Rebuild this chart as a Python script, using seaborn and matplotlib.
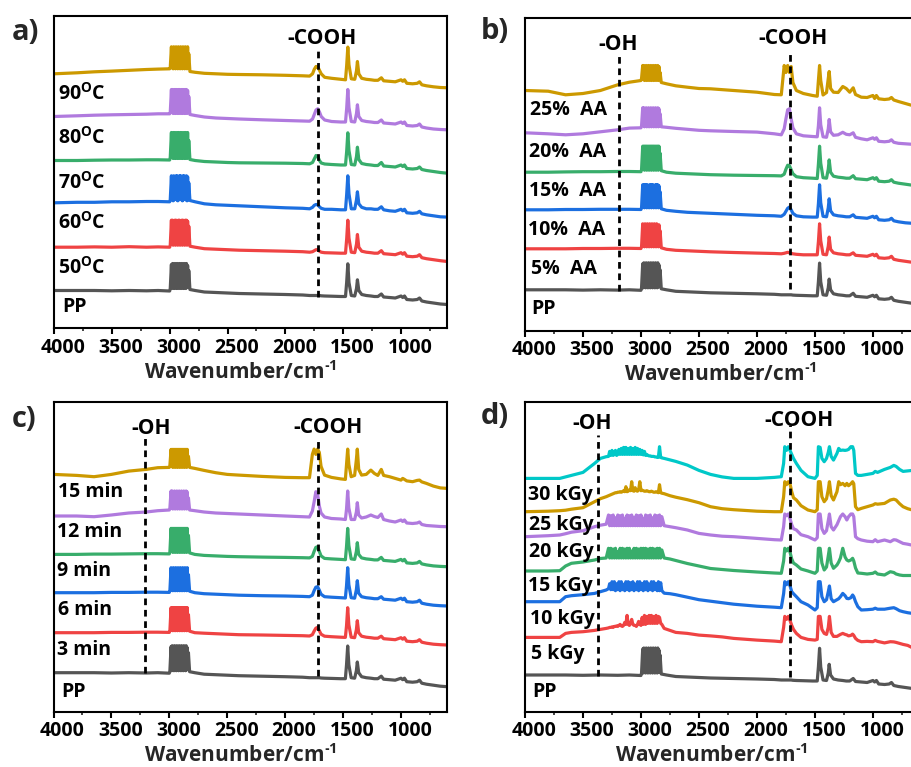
import numpy as np
import pandas as pd
import matplotlib
matplotlib.use("Agg")
import matplotlib.pyplot as plt
from matplotlib.ticker import MultipleLocator
from matplotlib.transforms import ScaledTranslation
import seaborn as sns

# ---------------------------------------------------------------------------
# Wavenumber grids (cm-1)
# ---------------------------------------------------------------------------
wn_main = [4000, 3800, 3650, 3500, 3350, 3200, 3100, 3000, 2995,
           2985, 2980, 2975, 2970, 2965, 2960, 2955, 2950, 2945, 2940, 2935, 2930, 2925, 2920, 2915, 2910,
           2905, 2900, 2895, 2890, 2885, 2880, 2875, 2870, 2865, 2860, 2855, 2850, 2845, 2840, 2835,
           2825, 2780, 2700, 2600, 2500, 2400, 2200, 2000, 1850, 1790,
           1765, 1750, 1735, 1720, 1705, 1690, 1660, 1600, 1520, 1480,
           1470, 1460, 1450, 1430, 1400, 1385, 1377, 1365, 1340, 1300,
           1260, 1230, 1200, 1170, 1150, 1100, 1050, 1000, 985, 970,
           950, 900, 860, 840, 820, 780, 720, 660, 600]

wn_irr = [4000, 3800, 3700, 3650, 3600, 3500, 3400, 3350, 3300,
          3280, 3270, 3260, 3250, 3240, 3230, 3220, 3210, 3200, 3190,
          3180, 3170, 3160, 3150, 3140, 3130, 3120, 3110, 3100, 3090,
          3080, 3070, 3060, 3050, 3040, 3030, 3020, 3010, 3000, 2990,
          2980, 2970, 2960, 2950, 2940, 2930, 2920, 2910, 2900, 2890,
          2880, 2870, 2860, 2850, 2840, 2830, 2820,
          2800, 2750, 2700, 2600, 2500, 2400, 2300, 2200, 2000, 1850, 1790,
          1770, 1760, 1745, 1730, 1715, 1700, 1685, 1660, 1620, 1560, 1500, 1480,
          1470, 1455, 1440, 1420, 1400, 1385, 1375, 1360, 1340, 1310, 1295, 1280,
          1260, 1240, 1225, 1210, 1190, 1175, 1165, 1150, 1130,
          1100, 1050, 1000, 980, 960, 900, 850, 820, 800, 770, 740, 700, 660, 600]

# ---------------------------------------------------------------------------
# Absorbance (a.u., relative to the 4000 cm-1 level of each spectrum)
# ---------------------------------------------------------------------------
pp = [0, 0, 0, -0.3, 0, -0.3, 0, -0.5, 2,
      26, 2, 27, 3, 25, 2, 27, 3, 26, 2, 27, 3, 25, 2, 27, 3,
      26, 2, 27, 3, 25, 2, 27, 3, 26, 2, 27, 3, 25, 3, 20,
      1, 0, -1.5, -2, -2.5, -3, -3.5, -4, -4.5, -5,
      -5, -5, -5, -5, -5, -5.3, -5.5, -5.7, -6, -6,
      8, 26.7, 8, -5, -5.5, 2, 10.7, 0, -4, -5,
      -5.5, -6, -6, -3.5, -6.5, -7, -7.5, -5.5, -7, -5.5,
      -9, -9.5, -9, -7.5, -10.5, -11.5, -12.5, -13.5, -14]

# a) grafting temperature
temp_50 = [0, 0, 0.3, 0, 0.5, 0, 0.3, 0, 2,
           27, 3, 27, 2, 26, 3, 27, 2, 27, 3, 26, 2, 27, 3, 27, 2,
           26, 3, 27, 2, 27, 3, 26, 2, 27, 3, 27, 2, 26, 3, 21,
           1, 0, -1.5, -2, -2.5, -3, -3.5, -4, -4.5, -5,
           -4.5, -3.5, -2.5, -2.5, -4, -5, -5.5, -5.7, -6, -6,
           8, 27, 9, -5, -5.5, 3, 12.7, 0, -4, -5,
           -5.5, -6, -6, -3.5, -6.5, -7, -7.5, -5.5, -7, -5.5,
           -9, -9.5, -9, -7.5, -10.5, -11.5, -12.5, -13.5, -14.3]
temp_60 = [0, 0.5, 0.5, 1, 1, 1.3, 1.3, 1, 3,
           27, 3, 22, 2, 27, 3, 22, 4, 27, 3, 27, 2, 22, 3, 27, 4,
           27, 3, 22, 2, 27, 3, 27, 4, 22, 3, 27, 2, 26, 3, 20,
           2.3, 1, -1, -2, -2.5, -3, -4, -5, -5.5, -6,
           -4.5, -2.5, -1.7, -2, -4, -5.5, -6.5, -6.5, -7, -7,
           8, 27, 9, -6, -6, 3, 11, -1, -4.5, -6,
           -6, -6.5, -6.5, -4, -7, -8, -8.5, -6.5, -8, -6.5,
           -10, -10.5, -10, -8.5, -11, -12, -13, -14, -14.3]
temp_70 = [0, 0, 0.3, 0.5, 0.5, 0.7, 0.7, 0.5, 3,
           28, 3, 27, 2, 28, 3, 27, 2, 28, 3, 27, 2, 28, 3, 27, 2,
           28, 3, 27, 2, 28, 3, 27, 2, 28, 3, 27, 2, 28, 3, 20,
           1, 0, -1, -1.5, -2, -2.3, -2.5, -2.7, -3, -3.3,
           -2, 1.5, 5, 4, 0, -2.5, -3.5, -4, -4.5, -4.5,
           9, 27.7, 10, -4, -4.5, 4, 13.3, 1, -3, -4,
           -4.5, -5, -5, -2, -5.5, -6, -6.5, -4.5, -6, -4.5,
           -8, -8.5, -8, -6.5, -9, -10, -11, -12, -12.7]
temp_80 = [0, 0.7, 1.3, 1.7, 2, 2.3, 2.7, 2.7, 4,
           27, 4, 27, 3, 26, 4, 27, 3, 27, 4, 26, 3, 27, 4, 27, 3,
           26, 4, 27, 3, 27, 4, 26, 3, 27, 4, 27, 3, 26, 4, 20,
           2, 1, -0.5, -1.5, -2, -2.5, -3.3, -4, -4.5, -4.7,
           -2.5, 2, 6.5, 7.7, 4.5, 0, -3.5, -5, -5.5, -5.5,
           8, 27, 9, -5, -5.5, 3, 11.7, 0, -4, -5,
           -5.5, -6, -6, -3.5, -6.5, -7, -7.5, -5.5, -7, -5.5,
           -9, -9.5, -9, -7.5, -10.5, -11.5, -12.5, -13, -13.3]
temp_90 = [0, 1, 2, 2.7, 3.5, 4.3, 4.7, 5, 6,
           27, 6, 26, 5, 27, 6, 26, 5, 27, 6, 26, 5, 27, 6, 26, 5,
           27, 6, 26, 5, 27, 6, 26, 5, 27, 6, 26, 5, 27, 6, 20,
           2.3, 1.5, 0.5, 0, -0.5, -0.7, -1, -1.5, -2, -2.3,
           0, 4.5, 7.3, 7, 3.5, 0, -3.5, -4.5, -5.5, -6,
           8, 26.7, 9, -5, -5.5, 3, 12.3, 0, -4.5, -5.5,
           -6, -6.5, -6.5, -4, -7, -7.5, -8, -6, -7.5, -6,
           -9.5, -10, -9.5, -8, -11, -12, -13, -13.7, -14]

# b) acrylic acid content
aa_5 = [0, 0, 0, 0.3, 0.3, 0.5, 0.5, 0.3, 2,
        25, 3, 24, 2, 25, 3, 22, 2, 25, 3, 24, 2, 25, 3, 22, 2,
        25, 3, 24, 2, 25, 3, 24, 2, 25, 3, 22, 2, 24, 3, 18,
        1, -0.5, -1.5, -2, -2.5, -3, -3.7, -4.3, -4.7, -5,
        -4.5, -4, -3.5, -4, -4.5, -5, -5.5, -6, -6, -6,
        7, 25, 8, -5.5, -6, 2.5, 11.7, -0.5, -4, -5,
        -5.5, -6, -6, -4, -6.5, -7, -7.5, -5.5, -7, -5.5,
        -9, -9.5, -9, -7.5, -10.5, -11.5, -12.5, -13.5, -14]
aa_10 = [0, 0, 0.3, 0.3, 0.5, 0.5, 0.5, 0.3, 2,
         25, 3, 25, 2, 25, 3, 25, 2, 25, 3, 24, 2, 25, 3, 25, 2,
         25, 3, 25, 2, 24, 3, 25, 2, 25, 3, 25, 2, 24, 3, 18,
         1, -0.5, -1.5, -2.5, -3, -3.5, -4.5, -5.5, -6, -6.5,
         -4.5, -1.5, 1.5, 2.7, 0, -3.5, -6, -7, -7.3, -7.3,
         6, 25, 7, -6.5, -7, 2, 11, -1, -5, -6,
         -6.5, -7, -7, -5, -7.5, -8, -8.5, -6.5, -8, -6.5,
         -10, -10.5, -10, -8.5, -11, -12, -13, -13.5, -14]
aa_15 = [0, 0, 0.3, 0.5, 0.5, 0.7, 0.7, 0.5, 2.5,
         26, 3, 26, 2, 26, 3, 26, 2, 26, 3, 26, 2, 26, 3, 26, 2,
         26, 3, 26, 2, 26, 3, 26, 2, 26, 3, 26, 2, 26, 3, 19,
         1.5, 0, -1, -1.5, -2, -2.5, -3, -3.3, -3.5, -3.7,
         -2, 3, 7, 6.5, 2.5, -1.5, -4.5, -5.5, -6, -6.3,
         8, 26, 9, -5.5, -6, 3, 12.3, 0, -4, -5,
         -5.5, -6, -6, -3.5, -6.5, -7, -7.5, -5.5, -7, -5.5,
         -9, -9.5, -9, -7.5, -10, -11, -12, -13, -13.5]
aa_20 = [0, -1, -2, -1, 1, 3, 4.7, 5, 7,
         25, 7, 25, 6, 24, 7, 25, 6, 24, 7, 25, 6, 24, 7, 25, 6,
         24, 7, 25, 6, 24, 7, 25, 6, 24, 7, 25, 6, 24, 7, 19,
         6, 5.5, 4.5, 3.5, 2.5, 2, 1.3, 0.7, -1, -2,
         4, 14, 23, 24, 14, 5, -1, -3, -3.7, -4,
         7, 25, 8, -4, -4.5, 4, 13.3, 1, -2.5, -2,
         0.5, -1.5, -2, 0, -4.5, -6, -7, -5, -6.5, -5,
         -8.5, -9, -8.5, -7, -9.5, -10.5, -11, -11.5, -12]
aa_25 = [0, -0.7, -4.3, -3, 0, 5.7, 8.3, 10, 12,
         25, 11, 25, 10, 24, 11, 25, 10, 24, 11, 25, 10, 24, 11, 25, 10,
         24, 11, 25, 10, 24, 11, 25, 10, 24, 11, 25, 10, 24, 11, 18,
         8, 6.7, 4.7, 3.3, 2, 1.7, 0, -1.7, -4, -4.3,
         25, 18, 25, 18, 24, 8, 0, -3, -5, -5.7,
         10, 25, 10, -4.5, -2, 12, 19, 2, -1.7, -2,
         4, 2, -1.7, 2.7, -4, -6.7, -7, -5, -8, -5,
         -8.3, -9, -8.5, -7, -9.5, -11, -13, -15, -15]

# c) reaction time
time_3 = [0, 0, 0, 0.3, 0.3, 0.5, 0.5, 0.3, 2,
          25, 3, 25, 2, 25, 3, 25, 2, 25, 3, 25, 2, 25, 3, 25, 2,
          25, 3, 25, 2, 25, 3, 25, 2, 25, 3, 25, 2, 25, 3, 18,
          1.5, 0, -0.5, -1, -1.5, -2, -2.3, -2.7, -3, -3.3,
          -2, 1.5, 4.5, 5.3, 2, -1.5, -3.5, -4, -4.5, -4.7,
          7, 25, 8, -4.5, -5, 3, 12, 0, -3.5, -4.5,
          -5, -5.5, -5.5, -3.5, -6, -6.5, -7, -5, -6.5, -5,
          -8.5, -9, -8.5, -7, -9.5, -10.5, -11.5, -12, -12.3]
time_6 = [0, 0, 0, 0.3, 0.3, 0.5, 0.5, 0.3, 2,
          25, 3, 24, 2, 25, 3, 22, 2, 25, 3, 24, 2, 25, 3, 22, 2,
          25, 3, 24, 2, 25, 3, 22, 2, 25, 3, 24, 2, 25, 3, 18,
          1.5, 0, -1, -1.5, -2, -2.5, -3, -3.3, -3.7, -4,
          -2.5, 2, 5.5, 6, 2.5, -1.5, -4, -4.5, -5, -5.3,
          7, 25, 8, -5, -5.5, 3, 12, -0.5, -4, -5,
          -5.5, -6, -6, -4, -6.5, -7, -7.5, -5.5, -7, -5.5,
          -9, -9.5, -9, -7.5, -10.5, -11.5, -12.5, -13, -13.3]
time_9 = [0, 0, 0.3, 0.3, 0.5, 0.7, 0.7, 0.5, 2.5,
          26, 3, 26, 2, 26, 3, 26, 2, 26, 3, 26, 2, 26, 3, 26, 2,
          26, 3, 26, 2, 26, 3, 26, 2, 26, 3, 26, 2, 26, 3, 19,
          1.5, 0, -1, -1.5, -2, -2.3, -2.7, -3, -3.3, -3.5,
          -2, 3, 7, 7.7, 3, -1.5, -4, -4.5, -5, -5.3,
          8, 26, 9, -4.5, -5, 3, 11.7, 0, -3.5, -4.5,
          -5, -5.5, -5.5, -3, -6, -6.5, -7, -5, -6.5, -5,
          -8.5, -9, -8.5, -7, -9.5, -10.5, -11.5, -12, -12.3]
time_12 = [0, 0, -0.7, 1, 3, 4, 5.3, 6, 8,
           25, 8, 25, 7, 24, 8, 25, 7, 24, 8, 25, 7, 24, 8, 25, 7,
           24, 8, 25, 7, 24, 8, 25, 7, 24, 8, 25, 7, 24, 8, 18,
           6, 5.3, 4, 3, 2.5, 2, 1, 0, -0.7, -1,
           5, 14, 24.3, 22, 10, 3, -1, -2.5, -3, -3.5,
           7, 25, 8, -3.5, -3.5, 4, 13.3, 1, -2, -1,
           1, -0.5, -1.5, 2, -3.5, -5, -6, -4, -5.5, -4,
           -7, -7.5, -7, -6, -8.5, -9.5, -10, -10.5, -10.7]
time_15 = [0, -1, -2.3, 0, 3.3, 5, 6.7, 7, 9,
           25, 8, 25, 7, 25, 8, 25, 7, 25, 8, 25, 7, 25, 8, 25, 7,
           25, 8, 25, 7, 25, 8, 25, 7, 25, 8, 25, 7, 25, 8, 18,
           7, 6, 4, 1.7, 0, -0.7, -2, -3, -3.3, -3.3,
           20, 25.3, 20, 25.3, 22, 8, -0.7, -3, -4.5, -5,
           10, 25.3, 10, -2.3, -1, 15, 25.3, 5, -0.7, 0,
           4.3, 1, -1, 5, -1, -2.3, -4, -5.7, -4, -5,
           -6.5, -7.3, -6, -5.7, -7.5, -9, -11.7, -13.5, -14]

# d) irradiation dose
dose_5 = [0, 0, 0, 4, 5, 5.7, 7, 8, 9,
          9.5, 10, 10, 10.5, 10, 11, 11, 11.5, 11, 12,
          13, 11.5, 11, 12, 15, 13, 22, 13, 12, 14,
          18, 13, 12, 12, 11, 13, 16, 13, 12, 20,
          13, 22, 13, 21, 14, 22, 14, 22, 14, 21,
          14, 22, 14, 21, 20, 14, 13,
          9, 7, 5, 4, 2.3, 1.5, 0.5, -1, -2.7, -3.7, -4.3,
          10, 21, 18, 21, 17, 12, 8, 4, 0, -2, -2.7, -2,
          21, 21, 8, 4, 3, 10, 21, 5, 1, 1, 2, 3,
          4, 3, 2.5, 1.5, 2, 3.3, 2, -1, -3,
          -4.3, -4, -4.3, -3, -4, -5.5, -4.3, -4.5, -5, -6, -7, -8, -10.3, -11]
dose_10 = [0, 0, 0, 5, 6, 7, 8.3, 10, 11.7,
           13, 18, 12, 20, 12, 20, 11, 18, 12, 20,
           11, 20, 12, 17.5, 11, 20, 12, 20, 11, 19,
           12, 20, 11, 17.5, 12, 20, 11, 20, 12, 18,
           11, 20, 12, 20, 11, 17.5, 12, 20, 11, 20,
           12, 18, 11, 20, 11, 19, 11,
           8.5, 8, 7, 4.5, 2, 0.5, -1, -2.5, -4.5, -5.5, -6,
           8, 20, 17, 20, 16, 10, 8, 5, 0, -3.3, -8.3, -6,
           20, 20, 5, 0, 2, 10, 15.7, 3, 0, 2, 3, 5,
           8.3, 6, 3.3, 3, 4, 6.7, 5, 0, -5,
           -8.3, -8, -7.5, -6.5, -7.5, -7.5, -6.5, -6, -7, -9, -10, -11, -11.7, -12]
dose_15 = [0, 0, 0.3, 5, 7.7, 9, 11, 12.5, 13,
           22.7, 13, 22.7, 13, 22, 13, 22.7, 13, 19.5, 13,
           22.7, 13, 22.7, 13, 22, 13, 22.7, 13, 22.7, 13,
           20, 13, 22.7, 13, 22.7, 13, 22, 13, 22.7, 13,
           22.7, 13, 22.7, 13, 22, 13, 22.7, 13, 22.7, 13,
           22, 13, 22.7, 13, 22.7, 13, 21,
           13, 12, 10.5, 7.5, 5, 2.5, 1.5, 0.5, -1, -2, -2.3,
           10, 22.7, 20, 22.7, 19, 12, 8, 6, 2, 0, -2.3, 0,
           22.7, 22.7, 8, 1, 4, 15, 22.7, 8, 2.7, 6, 9, 13,
           22.7, 14, 11, 10, 11, 12.7, 10, 3, -2,
           -2.3, -3, -2.3, -1, -3, -4, -0.7, -1.5, -3, -4, -4.5, -4.5, -4.5, -4.5]
dose_20 = [0, 1, 1.7, 3, 4.5, 6, 10, 11.5, 12.5,
           21.7, 11, 21, 11, 21.7, 11, 19, 11, 21.7, 11,
           21, 11, 21.7, 11, 18.5, 11, 21.7, 11, 21, 11,
           21.7, 11, 19, 11, 21.7, 11, 21, 11, 21.7, 11,
           18.5, 11, 21.7, 11, 21, 11, 21.7, 11, 19, 11,
           21.7, 11, 21, 11, 21.7, 11, 20,
           11, 10, 9, 6.7, 3.3, 1.7, 0.5, 0, -1.7, -3, -3.3,
           10, 22.7, 21, 22.7, 18, 12, 8, 6.7, 2, 0, -3.3, -1,
           22.7, 22.7, 8, 3.3, 6, 16, 22.7, 10, 6.7, 12, 16, 20,
           22.7, 20, 16.7, 20, 22.7, 22.7, 20, 0, -2,
           -3.3, -4.5, -5, -3, -5, -3.3, -5, -3, -3.3, -5, -6.7, -7.5, -8.5, -8.5]
dose_25 = [0, 0.5, 1, 1.5, 2.5, 4, 10, 13, 15,
           16, 16.5, 17, 17.5, 18, 18.5, 19, 19, 19.5, 19.5,
           20, 19.5, 20, 21, 20, 25, 20, 20.5, 22, 21,
           30, 21, 20.5, 24, 21, 20.5, 22, 30, 21, 21.5,
           21, 20.5, 20.5, 21, 20.5, 20, 20, 20.5, 20, 19.5,
           19.5, 20, 19.5, 19, 27, 19, 18.5,
           18, 16, 14.5, 12, 9, 5, 3, 2, 0.5, 0, 0,
           15, 30, 27, 30, 28, 20, 14, 11.7, 6, 1.7, 0, 2,
           30, 30, 15, 10, 13, 22, 30, 16, 11.7, 20, 30, 27,
           28.3, 26, 28.3, 26, 28, 30, 28, 5, 2,
           3.3, 5, 6.7, 8, 7.5, 8.3, 11.7, 12.5, 11.7, 8, 5, 3, 1.7, 1]
dose_30 = [0, 0, 0, 1.5, 3, 6, 15, 20, 21.7,
           22, 27, 23, 28, 23, 24, 28, 23, 24, 29,
           24, 30, 24, 31, 24, 31, 24, 30, 24, 31,
           24, 30, 24, 31, 24, 30, 24, 29, 24, 28,
           23.5, 27, 23, 24, 23, 22.5, 22.5, 22, 22, 22,
           21.5, 21.5, 21, 21, 31.7, 21, 20.5,
           20, 18.5, 17, 13.3, 8, 4, 1.5, 0, 0, 1, 1.7,
           15, 31.7, 28, 31.7, 28, 24, 20, 15, 8, 1.7, 0, 3,
           31.7, 31, 20, 16.7, 20, 26, 31.7, 22, 18.3, 25, 30, 28,
           28.3, 28, 28.3, 29, 31.7, 31.7, 28, 5, 3,
           3, 4, 5, 7, 6, 9, 11, 13, 12, 9, 7, 7.5, 8, 8]

labels_a = ["PP", "50$^\\mathrm{O}$C", "60$^\\mathrm{O}$C", "70$^\\mathrm{O}$C",
            "80$^\\mathrm{O}$C", "90$^\\mathrm{O}$C"]
labels_b = ["PP", "5%  AA", "10%  AA", "15%  AA", "20%  AA", "25%  AA"]
labels_c = ["PP", "3 min", "6 min", "9 min", "12 min", "15 min"]
labels_d = ["PP", "5 kGy", "10 kGy", "15 kGy", "20 kGy", "25 kGy", "30 kGy"]

# ---------------------------------------------------------------------------
# Style
# ---------------------------------------------------------------------------
GRAY, RED, BLUE, GREEN = "#555555", "#ef4343", "#1c6fe0", "#38ad6b"
PURPLE, GOLD, CYAN = "#b07ade", "#cc9900", "#00c8c8"
cols6 = [GRAY, RED, BLUE, GREEN, PURPLE, GOLD]
cols7 = [GRAY, RED, BLUE, GREEN, PURPLE, GOLD, CYAN]

sns.set_theme(style="white")
plt.rcParams.update({
    "font.family": ["Open Sans", "DejaVu Sans"],
    "font.weight": "bold",
    "mathtext.fontset": "custom",
    "mathtext.rm": "Open Sans:bold",
    "mathtext.bf": "Open Sans:bold",
    "mathtext.it": "Open Sans:bold",
    "mathtext.default": "rm",
    "axes.linewidth": 1.5,
    "axes.edgecolor": "black",
    "path.simplify": False,
})

W, H = 911, 767
fig = plt.figure(figsize=(W / 100, H / 100), dpi=100)
XLABEL = "Wavenumber/cm$^{\\mathrm{\u2010}1}$"


def px_axes(left, top, right, bottom):
    return fig.add_axes([left / W, 1 - bottom / H, (right - left) / W, (bottom - top) / H])


def draw_panel(ax, grids, curves, names, colors, offsets, height,
               label_x, label_y, dashes, notes, xlab_x):
    frames = []
    for wn, vals, name, off in zip(grids, curves, names, offsets):
        frames.append(pd.DataFrame({"wn": wn, "abs": np.asarray(vals, float) + off,
                                    "sample": name}))
    df = pd.concat(frames, ignore_index=True)
    sns.lineplot(data=df, x="wn", y="abs", hue="sample",
                 palette=dict(zip(names, colors)), estimator=None, sort=False,
                 legend=False, linewidth=2.3, ax=ax, zorder=2)
    for xw, y0, y1 in dashes:
        ax.plot([xw, xw], [y0, y1], color="black", lw=2.0,
                ls=(0, (2.4, 1.7)), zorder=4)
    for txt, xw, yb in notes:
        ax.text(xw, yb, txt, ha="center", va="baseline", fontsize=15,
                fontweight="bold", color="black", zorder=5)
    for name, xw, yb in zip(names, label_x, label_y):
        ax.text(xw, yb, name, ha="left", va="baseline", fontsize=14,
                fontweight="bold", color="black", zorder=5)

    ax.set_xlim(4000, 600)
    ax.set_ylim(0, height)
    ax.set_xticks([4000, 3500, 3000, 2500, 2000, 1500, 1000])
    ax.xaxis.set_minor_locator(MultipleLocator(250))
    ax.set_yticks([])
    ax.set_ylabel("")
    ax.tick_params(axis="x", which="major", direction="out", length=4, width=1.5,
                   labelsize=14, pad=3, bottom=True, top=False, colors="black")
    ax.tick_params(axis="x", which="minor", direction="out", length=2.5, width=1.2,
                   bottom=True, top=False)
    shift = ScaledTranslation(0.09, 0, fig.dpi_scale_trans)
    for tick in ax.xaxis.get_major_ticks():
        tick.label1.set_fontweight("bold")
        tick.label1.set_transform(tick.label1.get_transform() + shift)
    ax.set_xlabel(XLABEL, fontsize=15, fontweight="bold")
    ax.xaxis.set_label_coords(xlab_x, -0.103)
    for sp in ax.spines.values():
        sp.set_visible(True)
        sp.set_color("black")
        sp.set_linewidth(1.5)


# a) temperature series
ax_a = px_axes(54, 16, 447.3, 328.5)
draw_panel(ax_a, [wn_main] * 6, [pp, temp_50, temp_60, temp_70, temp_80, temp_90],
           labels_a, cols6, [38, 81.3, 125.7, 168, 212, 254.7], 312.5,
           [3931, 3965, 3965, 3965, 3965, 3965], [16, 54.5, 100, 140, 185, 228.5],
           [(1715, 31.5, 281.5)], [("-COOH", 1679, 285)], 0.475)

# b) acrylic acid series
ax_b = px_axes(525, 18, 919.3, 330.5)
draw_panel(ax_b, [wn_main] * 6, [pp, aa_5, aa_10, aa_15, aa_20, aa_25],
           labels_b, cols6, [40.7, 81.7, 120.7, 158.3, 197.7, 240], 312.5,
           [3948, 3948, 3971, 3965, 3965, 3957], [16.7, 56.7, 95.7, 135, 173.3, 215],
           [(3190, 40, 275), (1714, 42, 280)],
           [("-OH", 3200, 280), ("-COOH", 1688, 286.7)], 0.497)

# c) time series
ax_c = px_axes(53.5, 401.7, 447.3, 711.7)
draw_panel(ax_c, [wn_main] * 6, [pp, time_3, time_6, time_9, time_12, time_15],
           labels_c, cols6, [39, 79, 119, 157.3, 195.7, 237.3], 310,
           [3930, 3971, 3963, 3971, 3971, 3963], [15, 56.7, 96.7, 135.7, 174.3, 215],
           [(3211, 38.4, 273.4), (1715, 35.7, 275)],
           [("-OH", 3153, 277.4), ("-COOH", 1632, 279)], 0.475)

# d) irradiation dose series
ax_d = px_axes(525, 401.7, 919.3, 711.7)
draw_panel(ax_d, [wn_main] + [wn_irr] * 6,
           [pp, dose_5, dose_10, dose_15, dose_20, dose_25, dose_30],
           labels_d, cols7, [36.7, 74.3, 110, 140.7, 175, 200, 233.3], 310,
           [3937, 3948, 3957, 3974, 3965, 3965, 3971],
           [15, 52.3, 87.3, 121, 154.3, 181.7, 211.7],
           [(3368, 35.7, 276.7), (1719, 35, 286.7)],
           [("-OH", 3422, 282.4), ("-COOH", 1636, 286)], 0.474)

# panel letters
for letter, x, y in [("a)", 12, 40), ("b)", 481, 39), ("c)", 12, 427), ("d)", 481, 424)]:
    fig.text(x / W, 1 - y / H, letter, fontsize=21, fontweight="bold",
             ha="left", va="baseline")

fig.savefig("out.png", dpi=100)
